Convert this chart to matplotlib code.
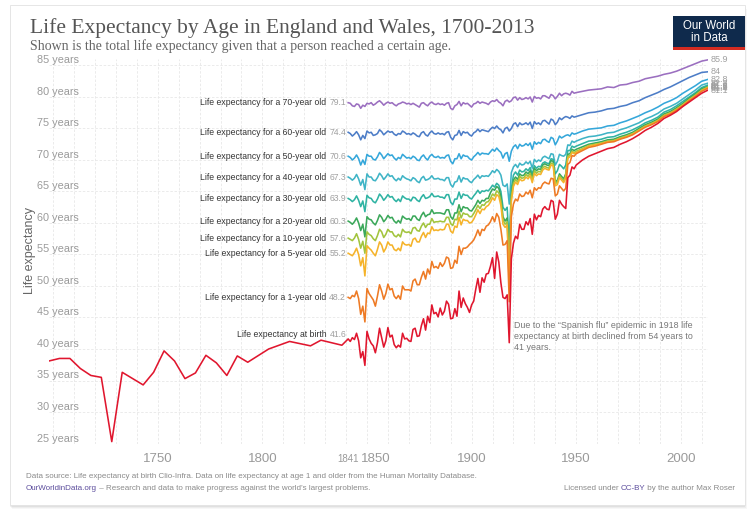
import matplotlib
matplotlib.use('Agg')
import matplotlib.pyplot as plt
import matplotlib.transforms as mtransforms
from matplotlib.patches import Rectangle

# ---- data ----
# Clio-Infra life expectancy at birth before 1841 (roughly every five years)
early_years = [1698, 1703, 1708, 1713, 1718, 1723, 1728, 1733, 1738, 1743, 1748, 1753, 1758,
               1763, 1768, 1773, 1778, 1783, 1788, 1793, 1803, 1813, 1823, 1828, 1838]
early_birth = [38.1, 38.5, 38.5, 36.9, 35.8, 35.5, 25.3, 36.3, 35.3, 34.3, 36.3, 39.7, 38.1,
               35.3, 36.2, 39.0, 37.8, 35.8, 38.9, 37.9, 40.0, 41.2, 40.5, 41.4, 40.6]

# HMD series: yearly 1841-1950, then every third year 1953-2013
years = list(range(1841, 1951)) + list(range(1953, 2014, 3))

e70 = [79.1, 79.0, 78.6, 78.5, 78.9, 78.8, 78.2, 78.7, 78.5, 79.0,
       78.9, 79.1, 78.7, 78.9, 79.2, 79.4, 79.1, 78.7, 79.0, 79.2,
       79.0, 79.1, 78.8, 78.6, 78.9, 79.0, 79.2, 79.1, 78.9, 79.0,
       78.8, 79.0, 78.8, 78.6, 78.4, 79.0, 79.1, 78.8, 78.6, 79.0,
       79.2, 78.9, 78.8, 79.0, 78.8, 78.9, 78.7, 79.0, 79.1, 78.2,
       78.0, 78.6, 78.8, 79.3, 78.6, 79.1, 78.9, 79.0, 78.7, 78.4,
       78.9, 79.0, 79.3, 79.0, 79.2, 79.1, 79.0, 78.8, 79.2, 79.4,
       79.3, 79.6, 79.2, 79.0, 78.6, 79.3, 79.5, 79.2, 79.4, 79.9,
       80.0, 79.5, 79.9, 79.6, 79.7, 79.9, 79.7, 80.0, 79.2, 80.1,
       79.8, 79.9, 79.7, 80.2, 80.2, 80.0, 79.8, 80.4, 80.2, 79.7,
       80.1, 80.6, 80.2, 80.5, 80.6, 80.5, 80.3, 80.9, 80.6, 80.7,
       80.9, 81.1, 81.2, 81.3, 81.6, 81.5, 81.9, 82.0, 82.3, 82.5, 82.9,
       83.1, 83.3, 83.6, 83.8, 84.1, 84.5, 84.9, 85.3, 85.7, 85.9]

e60 = [74.4, 74.2, 73.8, 74.1, 74.5, 74.0, 73.2, 73.9, 73.4, 74.6,
       74.3, 74.4, 73.9, 74.0, 74.2, 74.8, 74.5, 74.0, 74.3, 74.6,
       74.4, 74.5, 74.1, 73.9, 74.2, 74.1, 74.6, 74.4, 74.1, 74.2,
       74.0, 74.3, 74.1, 73.8, 73.7, 74.3, 74.5, 74.0, 73.8, 74.3,
       74.6, 74.2, 74.1, 74.3, 74.1, 74.2, 74.0, 74.4, 74.5, 73.6,
       73.2, 73.9, 74.0, 74.7, 73.9, 74.5, 74.3, 74.4, 74.0, 73.8,
       74.3, 74.5, 74.9, 74.5, 74.8, 74.7, 74.6, 74.5, 74.9, 75.2,
       75.0, 75.4, 75.0, 74.8, 74.3, 75.0, 75.2, 74.6, 75.0, 75.7,
       75.9, 75.3, 75.9, 75.6, 75.7, 75.9, 75.6, 76.0, 75.0, 76.1,
       75.7, 75.9, 75.6, 76.2, 76.3, 76.0, 75.7, 76.5, 76.3, 75.6,
       76.0, 76.7, 76.4, 76.7, 76.9, 76.8, 76.6, 77.0, 76.8, 76.9,
       77.2, 77.5, 77.6, 77.8, 78.1, 78.2, 78.5, 78.7, 79.1, 79.4, 79.9,
       80.3, 80.7, 81.2, 81.6, 82.1, 82.6, 83.1, 83.5, 83.9, 84.0]

e50 = [70.6, 70.4, 70.0, 70.3, 70.8, 70.2, 69.2, 70.0, 69.3, 70.9,
       70.6, 70.6, 70.1, 70.0, 70.5, 71.2, 70.8, 70.2, 70.6, 71.0,
       70.7, 70.8, 70.3, 70.0, 70.4, 70.2, 70.9, 70.6, 70.3, 70.4,
       70.2, 70.6, 70.4, 70.0, 69.9, 70.5, 70.8, 70.3, 70.0, 70.6,
       70.9, 70.5, 70.4, 70.6, 70.3, 70.4, 70.3, 70.7, 70.8, 69.8,
       69.4, 70.2, 70.2, 71.0, 70.2, 70.8, 70.6, 70.6, 70.2, 70.0,
       70.5, 70.8, 71.2, 70.8, 71.1, 71.0, 71.0, 70.9, 71.3, 71.7,
       71.4, 71.9, 71.5, 71.2, 70.3, 71.0, 71.2, 69.8, 71.4, 72.1,
       72.4, 71.8, 72.5, 72.2, 72.3, 72.6, 72.3, 72.7, 71.7, 72.9,
       72.5, 72.8, 72.6, 73.2, 73.3, 73.0, 72.8, 73.6, 73.4, 72.4,
       73.0, 73.8, 73.5, 73.7, 73.9, 74.0, 73.8, 74.3, 74.1, 74.2,
       74.6, 74.9, 75.0, 75.1, 75.4, 75.5, 75.9, 76.2, 76.6, 77.0, 77.5,
       77.9, 78.4, 79.0, 79.4, 79.9, 80.6, 81.2, 81.8, 82.5, 82.8]

e40 = [67.3, 67.1, 66.8, 67.1, 67.7, 67.0, 66.0, 66.9, 65.3, 67.8,
       67.3, 67.3, 66.8, 66.7, 67.2, 67.9, 67.5, 66.9, 67.3, 67.8,
       67.4, 67.5, 67.0, 66.7, 67.1, 66.8, 67.5, 67.2, 67.0, 66.9,
       66.7, 67.2, 67.0, 66.6, 66.4, 67.1, 67.4, 66.8, 66.9, 67.1,
       67.5, 67.0, 67.0, 67.1, 66.9, 66.9, 66.7, 67.2, 67.2, 66.1,
       65.7, 66.5, 66.6, 67.5, 66.5, 67.2, 67.0, 67.0, 66.6, 66.4,
       66.9, 67.2, 67.6, 67.1, 67.5, 67.4, 67.5, 67.4, 67.8, 68.3,
       68.0, 68.5, 68.2, 67.6, 66.0, 65.8, 66.2, 63.0, 68.0, 68.9,
       69.3, 68.8, 69.5, 69.2, 69.3, 69.7, 69.4, 69.8, 68.7, 70.1,
       69.7, 70.0, 69.8, 70.4, 70.6, 70.4, 70.2, 71.0, 70.9, 69.2,
       69.8, 70.9, 70.7, 70.6, 70.9, 72.4, 72.3, 73.0, 72.8, 73.0,
       73.4, 73.7, 73.8, 74.0, 74.3, 74.4, 74.8, 75.1, 75.5, 75.9, 76.5,
       76.9, 77.4, 78.1, 78.5, 79.0, 79.7, 80.4, 81.1, 81.9, 82.2]

e30 = [63.9, 63.7, 63.4, 63.7, 64.3, 63.6, 62.6, 63.5, 61.8, 64.4,
       64.0, 63.9, 63.4, 63.2, 63.8, 64.6, 64.2, 63.6, 64.0, 64.5,
       64.1, 64.2, 63.7, 63.4, 63.8, 63.4, 64.3, 64.0, 63.8, 63.8,
       63.5, 64.1, 64.0, 63.6, 63.4, 64.1, 64.5, 63.9, 64.0, 64.2,
       64.7, 64.2, 64.2, 64.3, 64.1, 64.1, 63.9, 64.5, 64.5, 63.3,
       62.9, 63.8, 63.8, 64.9, 63.9, 64.6, 64.4, 64.4, 64.0, 63.8,
       64.3, 64.7, 65.2, 64.7, 65.1, 65.0, 65.2, 65.1, 65.5, 66.0,
       65.7, 66.3, 66.0, 65.0, 62.5, 62.0, 62.5, 56.5, 65.5, 67.6,
       68.1, 67.6, 68.4, 68.1, 68.2, 68.6, 68.3, 68.8, 67.7, 69.1,
       68.7, 69.0, 68.9, 69.5, 69.7, 69.5, 69.4, 70.2, 70.1, 67.8,
       68.3, 69.3, 69.0, 68.6, 69.2, 71.5, 71.5, 72.2, 72.0, 72.2,
       72.6, 73.0, 73.1, 73.3, 73.6, 73.7, 74.1, 74.4, 74.8, 75.3, 75.9,
       76.3, 76.8, 77.6, 78.0, 78.6, 79.3, 80.0, 80.7, 81.5, 81.9]

e20 = [60.3, 60.1, 59.8, 60.2, 60.8, 60.0, 58.8, 59.8, 57.8, 61.0,
       60.6, 60.5, 60.0, 59.7, 60.4, 61.3, 60.9, 60.2, 60.6, 61.2,
       60.8, 60.9, 60.3, 60.0, 60.4, 60.0, 61.1, 60.8, 60.6, 60.7,
       60.4, 61.1, 61.1, 60.6, 60.4, 61.2, 61.7, 61.0, 61.3, 61.4,
       62.1, 61.5, 61.6, 61.6, 61.6, 61.5, 61.4, 62.1, 62.1, 61.0,
       60.6, 61.6, 61.6, 62.9, 61.8, 62.6, 62.4, 62.4, 62.0, 61.9,
       62.4, 62.9, 63.6, 63.1, 63.6, 63.5, 63.9, 63.9, 64.8, 65.4,
       65.2, 65.8, 65.5, 64.2, 61.0, 60.3, 60.8, 53.5, 64.5, 66.8,
       67.3, 66.9, 67.8, 67.5, 67.6, 68.1, 67.8, 68.3, 67.2, 68.7,
       68.3, 68.6, 68.5, 69.2, 69.4, 69.2, 69.1, 69.9, 69.8, 66.5,
       66.8, 67.8, 67.4, 67.0, 67.8, 70.9, 71.0, 71.7, 71.5, 71.7,
       72.1, 72.5, 72.7, 72.9, 73.2, 73.3, 73.7, 74.0, 74.4, 75.0, 75.6,
       76.0, 76.5, 77.3, 77.7, 78.3, 79.0, 79.8, 80.5, 81.3, 81.7]

e10 = [57.6, 57.4, 57.2, 57.6, 58.3, 57.4, 56.0, 57.1, 55.2, 58.6,
       58.2, 58.0, 57.5, 57.2, 58.0, 59.0, 58.6, 57.7, 58.2, 59.0,
       58.6, 58.6, 58.0, 57.8, 58.2, 57.8, 59.0, 58.6, 58.5, 58.6,
       58.3, 59.2, 59.3, 58.8, 58.7, 59.5, 60.0, 59.3, 59.8, 59.8,
       60.7, 60.1, 60.2, 60.2, 60.3, 60.2, 60.2, 60.9, 60.9, 59.9,
       59.6, 60.6, 60.5, 61.9, 60.8, 61.6, 61.4, 61.4, 61.0, 61.0,
       61.5, 62.1, 62.8, 62.3, 62.9, 62.8, 63.3, 63.4, 63.9, 64.6,
       64.3, 65.1, 64.8, 63.5, 60.5, 59.8, 60.2, 51.5, 64.0, 66.3,
       66.9, 66.5, 67.4, 67.1, 67.2, 67.7, 67.4, 67.9, 66.8, 68.3,
       67.9, 68.2, 68.1, 68.8, 69.0, 68.8, 68.7, 69.5, 69.4, 66.2,
       66.5, 67.5, 67.1, 66.7, 67.5, 70.6, 70.7, 71.4, 71.2, 71.4,
       71.8, 72.3, 72.5, 72.7, 73.0, 73.1, 73.5, 73.8, 74.2, 74.8, 75.4,
       75.8, 76.3, 77.1, 77.5, 78.1, 78.8, 79.6, 80.3, 81.1, 81.6]

e5 = [55.2, 55.0, 54.8, 55.3, 56.0, 55.0, 53.2, 54.5, 51.6, 56.4,
      56.0, 55.7, 55.2, 54.8, 55.8, 57.0, 56.5, 55.4, 56.0, 57.0,
      56.5, 56.5, 55.8, 55.6, 56.0, 55.6, 57.0, 56.6, 56.5, 56.6,
      56.3, 57.4, 57.6, 57.0, 57.0, 57.9, 58.5, 57.7, 58.4, 58.3,
      59.4, 58.8, 58.9, 58.8, 59.0, 58.9, 59.0, 59.8, 59.8, 58.7,
      58.4, 59.5, 59.3, 60.9, 59.7, 60.6, 60.4, 60.4, 60.0, 60.1,
      60.6, 61.3, 62.1, 61.5, 62.2, 62.1, 62.6, 62.8, 63.3, 64.0,
      63.6, 64.5, 64.2, 62.8, 59.8, 59.3, 59.7, 50.0, 63.5, 65.8,
      66.5, 66.1, 67.0, 66.7, 66.8, 67.3, 67.0, 67.5, 66.4, 67.9,
      67.5, 67.8, 67.7, 68.4, 68.7, 68.5, 68.4, 69.2, 69.1, 65.9,
      66.1, 67.2, 66.8, 66.4, 67.2, 70.3, 70.5, 71.2, 71.0, 71.2,
      71.7, 72.2, 72.4, 72.6, 72.9, 73.0, 73.4, 73.7, 74.1, 74.7, 75.3,
      75.7, 76.2, 77.0, 77.4, 78.0, 78.7, 79.5, 80.2, 81.0, 81.5]

e1 = [48.2, 48.0, 48.5, 48.3, 49.2, 48.0, 45.5, 46.8, 44.3, 49.6,
      48.8, 48.3, 47.8, 46.8, 48.4, 50.2, 49.2, 47.9, 48.8, 50.3,
      49.4, 49.6, 48.4, 48.0, 48.5, 47.9, 50.0, 49.4, 49.4, 49.4,
      49.2, 50.8, 51.1, 50.2, 50.2, 51.4, 52.3, 51.1, 52.7, 51.9,
      53.9, 52.9, 53.1, 52.8, 53.7, 53.1, 53.6, 54.6, 54.4, 52.8,
      52.9, 54.1, 53.6, 56.3, 55.0, 56.0, 56.0, 56.2, 56.6, 56.9,
      57.3, 58.0, 58.9, 58.0, 59.0, 58.8, 59.5, 59.7, 60.2, 61.0,
      60.2, 61.5, 60.9, 59.0, 56.5, 56.6, 57.2, 47.5, 61.0, 63.0,
      63.8, 63.5, 64.6, 64.2, 64.3, 64.9, 64.6, 65.2, 64.0, 65.6,
      65.2, 65.6, 65.5, 66.2, 66.5, 66.3, 66.2, 67.1, 67.0, 64.3,
      64.6, 65.9, 65.5, 65.1, 65.5, 69.3, 69.6, 70.7, 70.6, 71.0,
      71.5, 72.0, 72.2, 72.5, 72.8, 72.9, 73.3, 73.6, 74.0, 74.6, 75.2,
      75.6, 76.1, 76.9, 77.3, 77.9, 78.6, 79.4, 80.1, 80.9, 81.4]

e0 = [41.6, 41.2, 41.8, 41.5, 42.5, 41.3, 38.6, 39.6, 37.4, 42.8,
      41.6, 40.9, 40.5, 39.4, 41.0, 43.3, 41.8, 40.3, 41.3, 43.4,
      41.9, 42.2, 40.7, 40.2, 40.6, 40.3, 42.5, 41.6, 41.7, 41.3,
      41.2, 43.1, 43.3, 42.0, 42.1, 43.7, 44.8, 43.0, 45.2, 44.2,
      47.0, 45.6, 45.8, 45.1, 46.5, 45.4, 46.0, 47.6, 47.1, 44.8,
      44.9, 46.4, 45.2, 49.2, 46.6, 48.1, 47.2, 46.6, 45.8, 47.0,
      47.6, 49.5, 51.2, 49.0, 51.3, 50.6, 51.9, 52.0, 53.1, 54.5,
      51.2, 55.4, 53.8, 50.5, 48.2, 48.0, 48.6, 41.0, 54.3, 56.8,
      57.9, 57.5, 59.8, 59.0, 59.0, 60.2, 59.7, 60.7, 58.2, 61.4,
      60.5, 61.2, 61.0, 62.2, 62.6, 62.2, 62.1, 63.6, 63.4, 60.6,
      61.4, 63.6, 63.0, 62.6, 62.3, 67.2, 67.6, 68.9, 68.6, 69.2,
      70.0, 70.6, 71.0, 71.4, 71.8, 72.0, 72.5, 72.9, 73.4, 74.0, 74.7,
      75.2, 75.8, 76.6, 77.1, 77.7, 78.5, 79.2, 79.9, 80.6, 81.1]

names = ['Life expectancy for a 70-year old', 'Life expectancy for a 60-year old',
         'Life expectancy for a 50-year old', 'Life expectancy for a 40-year old',
         'Life expectancy for a 30-year old', 'Life expectancy for a 20-year old',
         'Life expectancy for a 10-year old', 'Life expectancy for a 5-year old',
         'Life expectancy for a 1-year old', 'Life expectancy at birth']
series = [e70, e60, e50, e40, e30, e20, e10, e5, e1, e0]
colours = ['#9b6fc0', '#4d7dc7', '#35a7da', '#3fb4c6', '#2fb3a3', '#3ba85a',
           '#a2c43d', '#f5b32a', '#ee7a24', '#e0162e']

y_ticks = [25, 30, 35, 40, 45, 50, 55, 60, 65, 70, 75, 80, 85]
x_labels = [1750, 1800, 1850, 1900, 1950, 2000]

plt.rcParams['font.family'] = ['Liberation Sans', 'DejaVu Sans']

W, H = 755, 515
fig = plt.figure(figsize=(W / 100, H / 100), dpi=100)
fig.patch.set_facecolor('white')

# card with a soft shadow
for i, a in enumerate([0.05, 0.04, 0.03]):
    fig.patches.append(Rectangle(((10 + i) / W, (H - 506 - i - 1) / H), 735 / W, 500 / H,
                                 transform=fig.transFigure, facecolor='black', alpha=a,
                                 edgecolor='none', zorder=-12))
fig.patches.append(Rectangle((10 / W, (H - 505) / H), 735 / W, 500 / H, transform=fig.transFigure,
                             facecolor='white', edgecolor='#e2e2e2', lw=0.6, zorder=-10))

ax = fig.add_axes([49 / W, 1 - 443.5 / H, (708 - 49) / W, (443.5 - 59.2) / H])
ax.patch.set_visible(False)
ax.set_xlim(1698, 2013)
ax.set_ylim(25, 86)
for s in ax.spines.values():
    s.set_visible(False)

# grid and ticks
ax.set_yticks(y_ticks)
ax.set_yticklabels([])
grid_years = list(range(1700, 2011, 10))
ax.set_xticks(grid_years)
ax.set_xticklabels([str(y) if y in x_labels else '' for y in grid_years])
ax.set_xticks([1841], minor=True)
ax.set_xticklabels(['1841'], minor=True)
ax.grid(True, which='major', color='#e8e8e8', lw=0.6, ls=(0, (3, 2)))
ax.set_axisbelow(True)
ax.tick_params(axis='both', which='both', length=0)
ax.tick_params(axis='x', which='major', labelsize=9.5, labelcolor='#9a9a9a', pad=6.5)
ax.tick_params(axis='x', which='minor', labelsize=7, labelcolor='#9a9a9a', pad=7.9)
for lab in ax.get_xticklabels():
    if lab.get_text() == '1850':
        lab.set_transform(lab.get_transform() + mtransforms.ScaledTranslation(0.085, 0, fig.dpi_scale_trans))

ylab_tr = mtransforms.blended_transform_factory(ax.transAxes, ax.transData)
ylab_tr = ylab_tr + mtransforms.ScaledTranslation(-0.12, 0.0, fig.dpi_scale_trans)
for v in y_ticks:
    ax.text(0, v, '%d years' % v, transform=ylab_tr, ha='left', va='bottom',
            fontsize=7.8, color='#9a9a9a')

# lines and their labels
for name, vals, col in zip(names, series, colours):
    if vals is e0:
        ax.plot(early_years + years, early_birth + vals, color=col, lw=1.15, zorder=3)
        dy = 4
    else:
        ax.plot(years, vals, color=col, lw=1.15, zorder=2)
        dy = 0

    val_tr = mtransforms.offset_copy(ax.transData, fig, x=-2, y=dy, units='dots')
    name_tr = mtransforms.offset_copy(ax.transData, fig, x=-22, y=dy, units='dots')
    ax.text(years[0], vals[0], '%.1f' % vals[0], transform=val_tr, ha='right', va='center',
            fontsize=6.2, color='#a0a0a0')
    ax.text(years[0], vals[0], name, transform=name_tr, ha='right', va='center',
            fontsize=6.2, color='#333333')

    end_tr = mtransforms.offset_copy(ax.transData, fig, x=3, y=0, units='dots')
    ax.text(years[-1], vals[-1], '%g' % vals[-1], transform=end_tr, ha='left', va='center',
            fontsize=6.5, color='#a0a0a0')

ax.text(1920.5, 44.5, 'Due to the \u201cSpanish flu\u201d epidemic in 1918 life\n'
        'expectancy at birth declined from 54 years to\n41 years.',
        ha='left', va='top', fontsize=6.4, color='#777777', linespacing=1.3)

fig.text(30 / W, 1 - 250 / H, 'Life expectancy', rotation=90, ha='center', va='center',
         fontsize=9, color='#666666')

# header
fig.text(30 / W, 1 - 28 / H, 'Life Expectancy by Age in England and Wales, 1700-2013',
         family='Liberation Serif', fontsize=15.5, color='#555555', ha='left', va='center')
fig.text(30 / W, 1 - 46 / H, 'Shown is the total life expectancy given that a person reached a certain age.',
         family='Liberation Serif', fontsize=10, color='#666666', ha='left', va='center')

fig.patches.append(Rectangle((673 / W, 1 - 50 / H), 72 / W, 34 / H, transform=fig.transFigure,
                             facecolor='#0f2a4c', edgecolor='none'))
fig.patches.append(Rectangle((673 / W, 1 - 50 / H), 72 / W, 3 / H, transform=fig.transFigure,
                             facecolor='#d42b21', edgecolor='none'))
fig.text(709 / W, 1 - 32 / H, 'Our World\nin Data', ha='center', va='center', fontsize=8.3,
         color='white', linespacing=1.05)

# footer
fs = 5.75
fig.text(26 / W, 1 - 476 / H, 'Data source: Life expectancy at birth Clio-Infra. Data on life expectancy '
         'at age 1 and older from the Human Mortality Database.', fontsize=fs, color='#8a8a8a',
         ha='left', va='center')
t1 = fig.text(26 / W, 1 - 489 / H, 'OurWorldinData.org', fontsize=fs, color='#5b4c9c',
              ha='left', va='center')
ax.annotate(' \u2013 Research and data to make progress against the world\u2019s largest problems.',
            xy=(1, 0), xycoords=t1, ha='left', va='bottom', fontsize=fs, color='#8a8a8a',
            annotation_clip=False)
r1 = fig.text(735 / W, 1 - 489 / H, ' by the author Max Roser', fontsize=fs, color='#8a8a8a',
              ha='right', va='center')
r2 = ax.annotate('CC-BY', xy=(0, 0), xycoords=r1, ha='right', va='bottom', fontsize=fs,
                 color='#5b4c9c', annotation_clip=False)
ax.annotate('Licensed under ', xy=(0, 0), xycoords=r2, ha='right', va='bottom', fontsize=fs,
            color='#8a8a8a', annotation_clip=False)

fig.savefig('out.png', dpi=100)
